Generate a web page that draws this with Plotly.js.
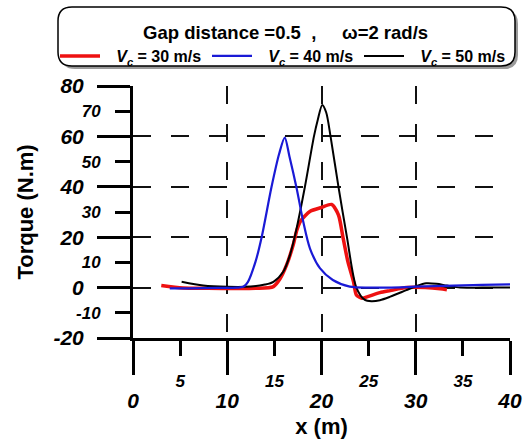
<!DOCTYPE html>
<html>
<head>
<meta charset="utf-8">
<script src="https://cdn.plot.ly/plotly-3.0.1.min.js"></script>
<style>html,body{margin:0;padding:0;background:#fff;}#chart{width:526px;height:447px;}</style>
</head>
<body>
<div id="chart"></div>
<script>
// Vc = 30 m/s
var x30 = [3.0, 5.3, 8, 11, 13, 14.9, 15.6, 16.3, 17.0, 17.4, 17.8, 18.8, 20.0, 21.07, 21.8, 22.3, 22.8, 23.4, 23.7, 24.3, 24.9, 26.2, 27.3, 29.0, 31.0, 32.6, 33.3];
var y30 = [0.8, -0.2, -0.3, -0.4, -0.3, 0.4, 3.5, 9, 17, 23, 26.5, 30.3, 31.8, 33.0, 28.8, 19.5, 10.3, 2.3, -2.9, -4.2, -3.6, -2.0, -1.2, 0, 0, -0.5, -0.9];
// Vc = 40 m/s
var x40 = [3.9, 6, 9, 11, 11.7, 12.2, 13.0, 13.65, 14.7, 15.5, 16.1, 16.6, 17.36, 18.06, 18.77, 19.83, 21.2, 23.0, 25, 27, 29, 31, 33, 35, 37, 40];
var y40 = [-0.3, -0.3, -0.1, 0, 0.3, 2.3, 10.3, 20, 40, 53, 59.5, 52, 39.4, 26.2, 15.6, 7.7, 3, 0.4, 0, 0, 0.2, 0.5, 0.7, 0.9, 1.1, 1.3];
// Vc = 50 m/s
var x50 = [5.16, 7.45, 10, 12.5, 14.0, 14.9, 15.94, 16.65, 17.36, 18.24, 19.2, 19.6, 20.08, 20.5, 20.96, 21.8, 22.7, 23.7, 24.6, 25.3, 26.2, 27.3, 29.0, 30.0, 31.1, 32.2, 33.3, 34.7, 37, 40];
var y50 = [2.3, 0.8, 0.3, 0.4, 1.2, 2.3, 6.3, 12.9, 23.5, 40, 60, 66.5, 72.5, 69.5, 60, 40, 20, 0, -4.9, -5.4, -5.0, -3.6, -1.0, 0.5, 1.7, 1.5, 0.8, 0, 0, 0];

var names = ['<i>V<sub>c</sub></i> = 30 m/s', '<i>V<sub>c</sub></i> = 40 m/s', '<i>V<sub>c</sub></i> = 50 m/s'];
var xMajor = [0, 10, 20, 30, 40];
var xMinor = [5, 15, 25, 35];
var yMajor = [-20, 0, 20, 40, 60, 80];
var yMinor = [-10, 10, 30, 50, 70];
var legendTitle = '\u00A0Gap distance =0.5\u00A0\u00A0,\u00A0\u00A0\u00A0\u00A0\u00A0ω=2 rad/s';
var xTitle = 'x (m)';
var yTitle = 'Torque (N.m)';

var FONT = 'Liberation Sans, Arial, sans-serif';
var sp = '\u2002\u2009';
var traces = [
  {x: x30, y: y30, name: sp + names[0], mode: 'lines', xaxis: 'x', yaxis: 'y', line: {color: '#ee1111', width: 3.5, shape: 'spline', smoothing: 0.7}},
  {x: x40, y: y40, name: sp + names[1], mode: 'lines', xaxis: 'x2', yaxis: 'y', line: {color: '#1a1ad6', width: 2.2, shape: 'spline', smoothing: 0.8}},
  {x: x50, y: y50, name: sp + names[2], mode: 'lines', xaxis: 'x', yaxis: 'y2', line: {color: '#000000', width: 2, shape: 'spline', smoothing: 0.8}}
];

// paper coords helpers for rounded legend box
function px2x(p) { return (p - 133) / 377; }
function py2y(p) { return (338 - p) / 252; }
function roundRect(l, t, r, b, rad) {
  var x0 = px2x(l), x1 = px2x(r), y0 = py2y(t), y1 = py2y(b);
  var rx = rad / 377, ry = rad / 252;
  return 'M' + (x0 + rx) + ',' + y0 + ' L' + (x1 - rx) + ',' + y0 +
    ' Q' + x1 + ',' + y0 + ' ' + x1 + ',' + (y0 - ry) +
    ' L' + x1 + ',' + (y1 + ry) + ' Q' + x1 + ',' + y1 + ' ' + (x1 - rx) + ',' + y1 +
    ' L' + (x0 + rx) + ',' + y1 + ' Q' + x0 + ',' + y1 + ' ' + x0 + ',' + (y1 + ry) +
    ' L' + x0 + ',' + (y0 - ry) + ' Q' + x0 + ',' + y0 + ' ' + (x0 + rx) + ',' + y0 + ' Z';
}

var gridStyle = {showgrid: true, gridcolor: '#111', gridwidth: 2, griddash: '18px,20px'};

var layout = {
  width: 526, height: 447,
  margin: {l: 133, r: 16, t: 86, b: 109},
  paper_bgcolor: '#fff', plot_bgcolor: '#fff',
  font: {family: FONT, color: '#000'},
  showlegend: true,
  legend: {
    orientation: 'h', x: px2x(55), y: py2y(15), xanchor: 'left', yanchor: 'top',
    bgcolor: 'rgba(0,0,0,0)', borderwidth: 0,
    itemwidth: 40, entrywidth: 97, traceorder: 'normal',
    font: {family: FONT, size: 16, weight: 'bold', color: '#000'},
    title: {text: legendTitle, side: 'top center', font: {family: FONT, size: 18.5, weight: 'bold', color: '#000'}}
  },
  xaxis: Object.assign({
    range: [0, 40], tickmode: 'array', tickvals: xMajor, ticktext: xMajor.map(String),
    ticks: 'outside', ticklen: 34, tickwidth: 3, tickcolor: '#000',
    showline: true, linewidth: 3, linecolor: '#000', zeroline: false, mirror: false,
    tickfont: {family: FONT, size: 21, weight: 'bold', style: 'italic', color: '#000'},
    ticklabelstandoff: 8,
    title: {text: xTitle, font: {family: FONT, size: 22, weight: 'bold'}, standoff: 8},
    automargin: false, fixedrange: true
  }, gridStyle),
  xaxis2: {
    overlaying: 'x', anchor: 'y', side: 'bottom', range: [0, 40], matches: 'x',
    tickmode: 'array', tickvals: xMinor, ticktext: xMinor.map(String),
    ticks: 'outside', ticklen: 17, tickwidth: 3, tickcolor: '#000',
    showline: false, showgrid: false, zeroline: false,
    tickfont: {family: FONT, size: 17, weight: 'bold', style: 'italic', color: '#000'},
    ticklabelstandoff: 11, automargin: false, fixedrange: true
  },
  yaxis: Object.assign({
    range: [-20, 80], tickmode: 'array', tickvals: yMajor, ticktext: yMajor.map(String),
    ticks: 'outside', ticklen: 33, tickwidth: 3, tickcolor: '#000',
    showline: true, linewidth: 3, linecolor: '#000', zeroline: false,
    tickfont: {family: FONT, size: 21, weight: 'bold', style: 'italic', color: '#000'},
    ticklabelstandoff: 9,
    title: {text: yTitle, font: {family: FONT, size: 22, weight: 'bold'}, standoff: 14},
    automargin: false, fixedrange: true
  }, gridStyle),
  yaxis2: {
    overlaying: 'y', anchor: 'x', side: 'left', range: [-20, 80], matches: 'y',
    tickmode: 'array', tickvals: yMinor, ticktext: yMinor.map(String),
    ticks: 'outside', ticklen: 17, tickwidth: 3, tickcolor: '#000',
    showline: false, showgrid: false, zeroline: false,
    tickfont: {family: FONT, size: 17, weight: 'bold', style: 'italic', color: '#000'},
    ticklabelstandoff: 11, automargin: false, fixedrange: true
  },
  shapes: [
    {type: 'path', xref: 'paper', yref: 'paper', layer: 'above', path: roundRect(61, 10, 518, 69, 14), fillcolor: '#9a9a9a', line: {width: 0}},
    {type: 'path', xref: 'paper', yref: 'paper', layer: 'above', path: roundRect(58, 7, 515, 66, 14), fillcolor: '#fff', line: {color: '#000', width: 1.5}}
  ]
};

Plotly.newPlot('chart', traces, layout, {displayModeBar: false, staticPlot: true});
</script>
</body>
</html>
